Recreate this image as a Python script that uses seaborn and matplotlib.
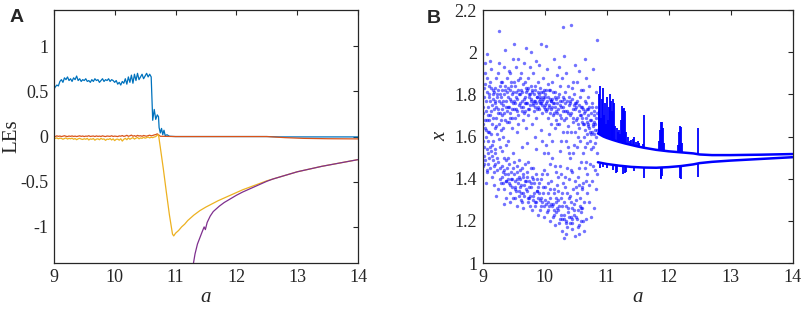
import matplotlib
matplotlib.use('Agg')
import matplotlib.pyplot as plt
import seaborn as sns
from matplotlib.ticker import FuncFormatter

# ================= Panel A: Lyapunov exponents =================
a_grid = [9.0, 9.025, 9.05, 9.075, 9.1, 9.125, 9.15, 9.175, 9.2, 9.225,
          9.25, 9.275, 9.3, 9.325, 9.35, 9.375, 9.4, 9.425, 9.45, 9.475,
          9.5, 9.525, 9.55, 9.575, 9.6, 9.625, 9.65, 9.675, 9.7, 9.725,
          9.75, 9.775, 9.8, 9.825, 9.85, 9.875, 9.9, 9.925, 9.95, 9.975,
          10.0, 10.025, 10.05, 10.075, 10.1, 10.125, 10.15, 10.175, 10.2, 10.225,
          10.25, 10.275, 10.3, 10.325, 10.35, 10.375, 10.4, 10.425, 10.45, 10.475,
          10.5, 10.525, 10.55, 10.575, 10.6, 10.625, 10.65, 10.675, 10.7]

le1_grid = [0.52, 0.55, 0.57, 0.56, 0.61, 0.63, 0.60, 0.65, 0.63, 0.66,
            0.62, 0.64, 0.61, 0.65, 0.63, 0.67, 0.62, 0.64, 0.61, 0.63,
            0.62, 0.64, 0.61, 0.62, 0.60, 0.63, 0.61, 0.64, 0.62, 0.63,
            0.60, 0.62, 0.64, 0.61, 0.63, 0.62, 0.64, 0.61, 0.63, 0.62,
            0.60, 0.62, 0.58, 0.60, 0.57, 0.61, 0.59, 0.64, 0.58, 0.66,
            0.60, 0.68, 0.59, 0.69, 0.62, 0.70, 0.63, 0.66, 0.69, 0.64,
            0.67, 0.70, 0.66, 0.69, 0.66, 0.18, 0.30, 0.19, 0.24]
le1_tail_a = [10.72, 10.73, 10.75, 10.77, 10.79, 10.81, 10.83, 10.86, 10.9, 11.0, 12.5, 12.7, 14.0]
le1_tail = [0.22, 0.10, 0.04, 0.09, 0.02, 0.07, 0.01, 0.02, 0.003, 0.0, 0.0, -0.004, -0.004]

le2_grid = [0.005, 0.0, 0.008, 0.002, 0.006, 0.0, 0.004, 0.009, 0.003, 0.0,
            0.006, 0.002, 0.007, 0.001, 0.005, 0.0, 0.004, 0.008, 0.002, 0.006,
            0.0, 0.005, 0.003, 0.009, 0.001, 0.004, 0.006, 0.0, 0.007, 0.002,
            0.005, 0.001, 0.008, 0.003, 0.0, 0.006, 0.004, 0.002, 0.009, 0.001,
            0.005, 0.003, 0.0, 0.007, 0.004, 0.011, 0.002, 0.006, 0.014, 0.003,
            0.008, 0.016, 0.004, 0.010, 0.002, 0.013, 0.006, 0.009, 0.003, 0.012,
            0.007, 0.004, 0.010, 0.015, 0.008, 0.012, 0.018, 0.022, 0.030]
le2_tail_a = [10.72, 10.75, 11.0, 12.5, 12.8, 13.1, 13.5, 14.0]
le2_tail = [0.02, 0.003, 0.0, 0.0, -0.012, -0.02, -0.024, -0.026]

le3_grid = [-0.010, -0.020, -0.015, -0.025, -0.018, -0.020, -0.030, -0.022, -0.015, -0.028,
            -0.020, -0.025, -0.018, -0.030, -0.022, -0.035, -0.025, -0.020, -0.028, -0.032,
            -0.024, -0.030, -0.020, -0.038, -0.026, -0.030, -0.022, -0.040, -0.028, -0.025,
            -0.035, -0.020, -0.030, -0.026, -0.042, -0.028, -0.032, -0.022, -0.038, -0.025,
            -0.045, -0.030, -0.028, -0.040, -0.024, -0.050, -0.030, -0.020, -0.035, -0.015,
            -0.030, -0.020, -0.012, -0.028, -0.018, -0.010, -0.025, -0.015, -0.020, -0.008,
            -0.018, -0.012, -0.005, -0.015, -0.008, -0.012, -0.005, 0.000, 0.015]
le3_tail_a = [10.72, 10.75, 10.8, 10.85, 10.9, 10.95, 10.97, 11.0, 11.05, 11.1, 11.15, 11.2,
              11.3, 11.4, 11.5, 11.6, 11.7, 11.8, 11.9, 12.0, 12.1, 12.2, 12.3, 12.4, 12.5,
              12.6, 12.7, 12.8, 12.9, 13.0, 13.2, 13.4, 13.6, 13.8, 14.0]
le3_tail = [0.02, -0.12, -0.36, -0.62, -0.87, -1.08, -1.10, -1.07, -1.04, -1.0, -0.97, -0.93,
            -0.87, -0.82, -0.78, -0.745, -0.71, -0.68, -0.65, -0.62, -0.59, -0.565, -0.54, -0.515, -0.49,
            -0.47, -0.45, -0.43, -0.41, -0.39, -0.36, -0.33, -0.305, -0.28, -0.255]

le4_a = [11.29, 11.32, 11.36, 11.40, 11.44, 11.47, 11.49, 11.52, 11.57, 11.62, 11.67, 11.72,
         11.8, 11.9, 12.0, 12.1, 12.2, 12.3, 12.4, 12.5, 12.6, 12.7, 12.8, 12.9, 13.0,
         13.2, 13.4, 13.6, 13.8, 14.0]
le4 = [-1.42, -1.30, -1.19, -1.12, -1.05, -1.0, -1.03, -0.95, -0.88, -0.83, -0.80, -0.77,
       -0.73, -0.69, -0.65, -0.615, -0.585, -0.555, -0.525, -0.495, -0.47, -0.45, -0.43, -0.41, -0.39,
       -0.36, -0.33, -0.305, -0.28, -0.255]

# ================= Panel B: bifurcation diagram =================
cloud = [
    (9.004, 1.46), (9.012, 1.71), (9.018, 1.83), (9.025, 1.55), (9.031, 1.64), (9.038, 1.95), (9.044, 1.49),
    (9.051, 1.77), (9.057, 1.60), (9.063, 1.43), (9.069, 1.88), (9.074, 1.68), (9.080, 1.52), (9.086, 1.74),
    (9.091, 1.58), (9.096, 1.80), (9.008, 1.66), (9.047, 1.38), (9.072, 1.99), (9.089, 1.47), (9.015, 1.51), (9.060, 1.72),
    (9.103, 1.62), (9.109, 1.79), (9.114, 1.45), (9.121, 1.86), (9.127, 1.70), (9.133, 1.53), (9.139, 1.92),
    (9.145, 1.41), (9.151, 1.75), (9.157, 1.66), (9.163, 1.49), (9.168, 1.82), (9.174, 1.58), (9.180, 1.37),
    (9.186, 1.73), (9.192, 1.64), (9.197, 1.47), (9.118, 1.96), (9.148, 1.56), (9.171, 1.78), (9.188, 1.43),
    (9.203, 1.77), (9.208, 1.52), (9.214, 1.69), (9.220, 1.88), (9.226, 1.44), (9.232, 1.61), (9.238, 1.80),
    (9.244, 1.35), (9.250, 1.73), (9.256, 1.48), (9.262, 1.95), (9.268, 1.66), (9.272, 2.10), (9.276, 1.55),
    (9.281, 1.84), (9.287, 1.40), (9.292, 1.76), (9.297, 1.63), (9.216, 1.32), (9.247, 1.90), (9.283, 1.71),
    (9.302, 1.79), (9.307, 1.46), (9.313, 1.70), (9.319, 1.86), (9.325, 1.38), (9.331, 1.64), (9.337, 1.75),
    (9.343, 1.50), (9.349, 1.93), (9.355, 1.82), (9.361, 1.42), (9.367, 1.68), (9.373, 1.31), (9.379, 1.77),
    (9.385, 1.56), (9.391, 1.88), (9.396, 1.45), (9.322, 1.60), (9.358, 2.01), (9.388, 1.72), (9.340, 1.35),
    (9.403, 1.74), (9.408, 1.83), (9.414, 1.40), (9.420, 1.67), (9.426, 1.91), (9.432, 1.47), (9.438, 1.78),
    (9.444, 1.29), (9.450, 1.71), (9.456, 1.86), (9.462, 1.43), (9.468, 1.64), (9.474, 1.80), (9.480, 1.36),
    (9.486, 1.52), (9.492, 1.76), (9.497, 1.97), (9.417, 1.58), (9.447, 1.33), (9.471, 1.69), (9.489, 1.45),
    (9.501, 2.04), (9.506, 1.77), (9.512, 1.42), (9.518, 1.84), (9.524, 1.69), (9.530, 1.31), (9.536, 1.79),
    (9.542, 1.93), (9.548, 1.46), (9.554, 1.72), (9.560, 1.27), (9.566, 1.82), (9.572, 1.38), (9.578, 1.66),
    (9.584, 1.75), (9.590, 1.49), (9.596, 1.88), (9.515, 1.35), (9.545, 1.73), (9.575, 1.97), (9.593, 1.41),
    (9.603, 1.80), (9.608, 1.40), (9.614, 1.74), (9.620, 1.90), (9.626, 1.33), (9.632, 1.77), (9.638, 1.45),
    (9.644, 1.68), (9.650, 1.85), (9.656, 1.26), (9.662, 1.71), (9.668, 1.95), (9.674, 1.37), (9.680, 1.79),
    (9.686, 1.47), (9.692, 1.83), (9.697, 1.64), (9.617, 1.30), (9.647, 1.42), (9.677, 1.76), (9.695, 2.02),
    (9.702, 1.76), (9.707, 1.35), (9.713, 1.82), (9.719, 1.43), (9.725, 1.70), (9.731, 1.88), (9.737, 1.29),
    (9.743, 1.79), (9.749, 1.39), (9.755, 1.73), (9.761, 1.93), (9.767, 1.32), (9.773, 1.78), (9.779, 1.45),
    (9.785, 1.84), (9.791, 1.66), (9.796, 1.25), (9.716, 1.57), (9.746, 1.80), (9.776, 2.00), (9.794, 1.41),
    (9.803, 1.81), (9.808, 1.30), (9.814, 1.75), (9.820, 1.90), (9.826, 1.38), (9.832, 1.72), (9.838, 1.84),
    (9.844, 1.27), (9.850, 1.77), (9.856, 1.42), (9.862, 1.69), (9.868, 1.96), (9.874, 1.34), (9.880, 1.79),
    (9.886, 1.23), (9.892, 1.74), (9.897, 1.86), (9.817, 1.45), (9.847, 1.60), (9.877, 1.73), (9.895, 1.36),
    (9.903, 1.77), (9.908, 1.33), (9.914, 1.73), (9.920, 1.83), (9.926, 1.25), (9.932, 1.79), (9.938, 1.40),
    (9.944, 1.76), (9.950, 2.04), (9.956, 1.29), (9.962, 1.71), (9.968, 1.88), (9.974, 1.36), (9.980, 1.78),
    (9.986, 1.52), (9.992, 1.74), (9.997, 1.22), (9.917, 1.94), (9.947, 1.63), (9.977, 1.81), (9.995, 1.44),
    (10.003, 1.75), (10.008, 1.30), (10.014, 1.80), (10.020, 1.56), (10.026, 1.72), (10.032, 1.92), (10.038, 1.24),
    (10.044, 1.77), (10.050, 1.38), (10.056, 1.69), (10.062, 1.85), (10.068, 1.27), (10.074, 1.74), (10.080, 1.47),
    (10.086, 1.78), (10.092, 1.20), (10.097, 1.66), (10.017, 2.03), (10.047, 1.33), (10.077, 1.61), (10.095, 1.82),
    (10.103, 1.73), (10.108, 1.28), (10.114, 1.78), (10.120, 1.50), (10.126, 1.86), (10.132, 1.22), (10.138, 1.70),
    (10.144, 1.35), (10.150, 1.76), (10.156, 1.97), (10.162, 1.18), (10.168, 1.64), (10.174, 1.81), (10.180, 1.31),
    (10.186, 1.72), (10.192, 1.43), (10.197, 1.89), (10.117, 1.58), (10.147, 1.25), (10.177, 1.68), (10.195, 1.37),
    (10.203, 1.71), (10.208, 1.26), (10.214, 1.79), (10.220, 1.41), (10.226, 1.66), (10.232, 1.93), (10.238, 1.19),
    (10.244, 1.75), (10.250, 1.53), (10.256, 1.84), (10.262, 1.23), (10.268, 1.69), (10.274, 1.33), (10.280, 1.77),
    (10.286, 1.15), (10.292, 1.62), (10.298, 2.12), (10.217, 1.30), (10.247, 1.46), (10.277, 1.88), (10.295, 1.38),
    (10.303, 1.74), (10.308, 1.21), (10.314, 1.68), (10.320, 1.12), (10.326, 1.81), (10.332, 1.36), (10.338, 1.58),
    (10.344, 1.27), (10.350, 1.90), (10.356, 1.72), (10.362, 1.17), (10.368, 1.45), (10.374, 1.65), (10.380, 1.24),
    (10.386, 1.79), (10.392, 1.31), (10.397, 1.52), (10.317, 1.98), (10.347, 1.14), (10.377, 1.84), (10.395, 1.40),
    (10.403, 1.70), (10.408, 1.19), (10.414, 1.77), (10.420, 1.29), (10.426, 1.62), (10.432, 2.13), (10.438, 1.43),
    (10.444, 1.83), (10.450, 1.16), (10.456, 1.67), (10.462, 1.35), (10.468, 1.75), (10.474, 1.23), (10.480, 1.56),
    (10.486, 1.94), (10.492, 1.39), (10.497, 1.73), (10.417, 1.50), (10.447, 1.26), (10.477, 1.80), (10.495, 1.13),
    (10.503, 1.68), (10.508, 1.22), (10.514, 1.76), (10.520, 1.33), (10.526, 1.86), (10.532, 1.17), (10.538, 1.60),
    (10.544, 1.41), (10.550, 1.72), (10.556, 1.14), (10.562, 1.64), (10.568, 1.27), (10.574, 1.79), (10.580, 1.48),
    (10.586, 1.20), (10.592, 1.70), (10.597, 1.36), (10.517, 1.55), (10.547, 1.91), (10.577, 1.31), (10.595, 1.82),
    (10.603, 1.74), (10.608, 1.26), (10.614, 1.66), (10.620, 1.82), (10.626, 1.38), (10.632, 1.71), (10.638, 1.15),
    (10.644, 1.63), (10.650, 1.77), (10.656, 1.45), (10.662, 1.69), (10.668, 1.88), (10.674, 1.21), (10.680, 1.57),
    (10.686, 1.73), (10.692, 1.33), (10.697, 1.65), (10.617, 1.52), (10.647, 1.97), (10.677, 1.42), (10.695, 1.79),
    (10.703, 1.70), (10.710, 1.29), (10.717, 1.64), (10.724, 1.84), (10.731, 1.47), (10.738, 1.68), (10.745, 1.22),
    (10.752, 1.61), (10.759, 1.76), (10.766, 1.39), (10.773, 1.66), (10.780, 1.92), (10.787, 1.55), (10.794, 1.72),
    (10.801, 1.26), (10.808, 1.63), (10.815, 1.44), (10.822, 1.81), (10.829, 1.35), (10.836, 1.69), (10.843, 1.52),
    (10.850, 2.06), (10.727, 1.58), (10.763, 1.62), (10.798, 1.67), (10.826, 1.60),
]
cloud_dense = [
    (9.002, 1.74), (9.010, 1.58), (9.022, 1.79), (9.028, 1.47), (9.035, 1.68), (9.041, 1.85), (9.054, 1.63),
    (9.066, 1.54), (9.078, 1.81), (9.083, 1.70), (9.094, 1.62), (9.098, 1.50), (9.035, 1.90), (9.076, 1.44),
    (9.101, 1.84), (9.106, 1.68), (9.112, 1.55), (9.124, 1.77), (9.130, 1.61), (9.136, 1.83), (9.142, 1.72),
    (9.154, 1.51), (9.160, 1.80), (9.166, 1.69), (9.177, 1.46), (9.183, 1.81), (9.194, 1.76), (9.199, 1.54),
    (9.201, 1.83), (9.211, 1.74), (9.223, 1.65), (9.229, 1.79), (9.235, 1.50), (9.241, 1.71), (9.253, 1.82),
    (9.259, 1.59), (9.265, 1.77), (9.278, 1.45), (9.285, 1.80), (9.290, 1.68), (9.295, 1.38), (9.299, 1.86),
    (9.305, 1.73), (9.311, 1.82), (9.316, 1.53), (9.328, 1.77), (9.334, 1.43), (9.346, 1.80), (9.352, 1.71),
    (9.364, 1.84), (9.370, 1.49), (9.376, 1.74), (9.382, 1.39), (9.393, 1.81), (9.398, 1.67), (9.344, 1.28),
    (9.405, 1.79), (9.411, 1.50), (9.423, 1.74), (9.429, 1.38), (9.435, 1.82), (9.441, 1.69), (9.453, 1.77),
    (9.459, 1.40), (9.465, 1.84), (9.477, 1.73), (9.483, 1.31), (9.494, 1.81), (9.499, 1.48), (9.442, 1.90),
    (9.503, 1.73), (9.509, 1.86), (9.521, 1.39), (9.527, 1.76), (9.533, 1.81), (9.539, 1.34), (9.551, 1.78),
    (9.557, 1.43), (9.563, 1.70), (9.569, 1.87), (9.581, 1.32), (9.587, 1.80), (9.598, 1.44), (9.557, 1.62),
    (9.605, 1.76), (9.611, 1.36), (9.623, 1.82), (9.629, 1.72), (9.635, 1.29), (9.641, 1.81), (9.653, 1.74),
    (9.659, 1.41), (9.665, 1.78), (9.671, 1.32), (9.683, 1.86), (9.689, 1.72), (9.699, 1.39), (9.640, 1.55),
    (9.704, 1.81), (9.710, 1.41), (9.722, 1.76), (9.728, 1.31), (9.734, 1.83), (9.740, 1.73), (9.752, 1.36),
    (9.758, 1.80), (9.764, 1.75), (9.770, 1.27), (9.782, 1.77), (9.788, 1.38), (9.798, 1.82), (9.740, 1.48),
    (9.805, 1.76), (9.811, 1.40), (9.823, 1.80), (9.829, 1.33), (9.835, 1.77), (9.841, 1.74), (9.853, 1.82),
    (9.859, 1.29), (9.865, 1.76), (9.871, 1.79), (9.883, 1.40), (9.889, 1.81), (9.899, 1.31), (9.859, 1.54),
    (9.905, 1.80), (9.911, 1.38), (9.923, 1.76), (9.929, 1.78), (9.935, 1.31), (9.941, 1.81), (9.953, 1.77),
    (9.959, 1.42), (9.965, 1.75), (9.971, 1.79), (9.983, 1.27), (9.989, 1.82), (9.999, 1.73), (9.960, 1.58),
    (10.005, 1.79), (10.011, 1.36), (10.023, 1.76), (10.029, 1.82), (10.035, 1.42), (10.041, 1.73), (10.053, 1.79),
    (10.059, 1.29), (10.065, 1.75), (10.071, 1.82), (10.083, 1.35), (10.089, 1.71), (10.099, 1.77), (10.060, 1.52),
    (10.105, 1.77), (10.111, 1.39), (10.123, 1.74), (10.129, 1.81), (10.135, 1.28), (10.141, 1.76), (10.153, 1.71),
    (10.159, 1.33), (10.165, 1.79), (10.171, 1.74), (10.183, 1.24), (10.189, 1.78), (10.199, 1.66), (10.160, 1.46),
    (10.205, 1.76), (10.211, 1.34), (10.223, 1.73), (10.229, 1.80), (10.235, 1.27), (10.241, 1.70), (10.253, 1.77),
    (10.259, 1.31), (10.265, 1.74), (10.271, 1.58), (10.283, 1.21), (10.289, 1.72), (10.299, 1.79), (10.260, 1.42),
    (10.305, 1.78), (10.311, 1.29), (10.323, 1.72), (10.329, 1.41), (10.335, 1.76), (10.341, 1.19), (10.353, 1.69),
    (10.359, 1.33), (10.365, 1.77), (10.371, 1.55), (10.383, 1.71), (10.389, 1.22), (10.399, 1.75), (10.360, 1.62),
    (10.405, 1.76), (10.411, 1.32), (10.423, 1.71), (10.429, 1.44), (10.435, 1.78), (10.441, 1.21), (10.453, 1.73),
    (10.459, 1.52), (10.465, 1.69), (10.471, 1.28), (10.483, 1.76), (10.489, 1.62), (10.499, 1.36), (10.460, 1.86),
    (10.505, 1.74), (10.511, 1.30), (10.523, 1.69), (10.529, 1.77), (10.535, 1.25), (10.541, 1.66), (10.553, 1.75),
    (10.559, 1.37), (10.565, 1.70), (10.571, 1.58), (10.583, 1.74), (10.589, 1.26), (10.599, 1.67), (10.560, 1.45),
    (10.605, 1.69), (10.611, 1.35), (10.623, 1.73), (10.629, 1.60), (10.635, 1.66), (10.641, 1.29), (10.653, 1.72),
    (10.659, 1.55), (10.665, 1.76), (10.671, 1.48), (10.683, 1.67), (10.689, 1.61), (10.699, 1.73), (10.660, 1.39),
    (10.706, 1.66), (10.713, 1.74), (10.720, 1.37), (10.734, 1.62), (10.741, 1.71), (10.748, 1.54), (10.755, 1.68),
    (10.770, 1.74), (10.777, 1.46), (10.784, 1.65), (10.791, 1.61), (10.805, 1.70), (10.812, 1.57), (10.819, 1.66),
    (10.833, 1.74), (10.840, 1.63), (10.846, 1.42), (10.848, 1.71),
]
cloud_low = [
    (9.31, 1.41), (9.34, 1.44), (9.37, 1.39), (9.41, 1.42), (9.44, 1.37), (9.47, 1.40), (9.52, 1.36),
    (9.55, 1.40), (9.58, 1.34), (9.62, 1.37), (9.65, 1.33), (9.68, 1.39), (9.72, 1.34), (9.75, 1.31),
    (9.78, 1.36), (9.82, 1.32), (9.85, 1.29), (9.88, 1.34), (9.92, 1.30), (9.95, 1.27), (9.98, 1.33),
    (10.02, 1.28), (10.05, 1.25), (10.08, 1.31), (10.12, 1.27), (10.15, 1.23), (10.18, 1.29), (10.22, 1.25),
    (10.25, 1.21), (10.28, 1.27), (10.32, 1.23), (10.35, 1.20), (10.38, 1.26), (10.42, 1.22), (10.45, 1.19),
    (10.48, 1.25), (10.52, 1.21), (10.55, 1.18), (10.58, 1.24), (10.62, 1.20),
]
cloud_a = [p[0] for p in cloud + cloud_dense + cloud_low]
cloud_x = [p[1] for p in cloud + cloud_dense + cloud_low]

# periodic branches
upper_a = [10.86, 10.95, 11.0, 11.1, 11.2, 11.3, 11.4, 11.5, 11.6, 11.7, 11.8, 12.0, 12.2, 12.4, 12.5, 12.7, 13.0, 13.5, 14.0]
upper_x = [1.615, 1.60, 1.594, 1.584, 1.575, 1.567, 1.56, 1.553, 1.547, 1.542, 1.537, 1.53, 1.525, 1.52, 1.515, 1.512, 1.512, 1.514, 1.517]
lower_a = [10.86, 11.0, 11.2, 11.4, 11.6, 11.8, 12.0, 12.2, 12.4, 12.5, 12.7, 13.0, 13.5, 14.0]
lower_x = [1.478, 1.47, 1.462, 1.456, 1.453, 1.452, 1.455, 1.46, 1.468, 1.474, 1.48, 1.486, 1.494, 1.502]

# spikes (periodic windows) above upper branch
spike_a = [10.87, 10.88, 10.9, 10.915, 10.93, 10.945, 10.96, 10.975, 10.99, 11.005, 11.02, 11.035, 11.05,
           11.065, 11.08, 11.095, 11.11, 11.125, 11.14, 11.16, 11.18, 11.2, 11.22, 11.24, 11.255, 11.27,
           11.285, 11.30, 11.32, 11.345, 11.37, 11.40, 11.43, 11.45, 11.47, 11.50, 11.53, 11.58, 11.60,
           11.85, 11.865, 11.88, 11.895, 11.91, 11.925, 12.16, 12.175, 12.19, 12.205, 12.22, 12.47]
spike_base = [1.613, 1.611, 1.608, 1.606, 1.604, 1.601, 1.599, 1.597, 1.595, 1.594, 1.592, 1.591, 1.589,
              1.588, 1.586, 1.585, 1.583, 1.582, 1.580, 1.578, 1.577, 1.575, 1.573, 1.572, 1.571, 1.569,
              1.568, 1.567, 1.565, 1.564, 1.562, 1.560, 1.558, 1.557, 1.555, 1.553, 1.551, 1.548, 1.547,
              1.534, 1.534, 1.533, 1.533, 1.532, 1.532, 1.526, 1.526, 1.525, 1.525, 1.525, 1.516]
spike_top = [1.80, 1.72, 1.84, 1.69, 1.78, 1.83, 1.70, 1.76, 1.66, 1.79, 1.68, 1.74, 1.80,
             1.77, 1.66, 1.72, 1.78, 1.76, 1.65, 1.64, 1.62, 1.63, 1.61, 1.68, 1.745, 1.73,
             1.735, 1.72, 1.62, 1.60, 1.58, 1.585, 1.59, 1.60, 1.575, 1.58, 1.57, 1.565, 1.70,
             1.58, 1.63, 1.67, 1.67, 1.64, 1.57, 1.56, 1.62, 1.65, 1.645, 1.57, 1.64]
# spikes below lower branch
lspike_a = [10.9, 10.95, 11.0, 11.1, 11.15, 11.17, 11.27, 11.29, 11.31, 11.45, 11.6, 11.87, 11.885, 11.9, 12.18, 12.2, 12.47]
lspike_top = [1.472, 1.471, 1.47, 1.466, 1.464, 1.463, 1.46, 1.459, 1.459, 1.456, 1.453, 1.452, 1.452, 1.452, 1.458, 1.46, 1.472]
lspike_bot = [1.45, 1.455, 1.45, 1.44, 1.425, 1.43, 1.42, 1.425, 1.43, 1.435, 1.405, 1.40, 1.405, 1.415, 1.405, 1.40, 1.41]

# ================= Style =================
sns.set_style('white')
plt.rcParams['font.family'] = ['Liberation Serif', 'DejaVu Serif']
plt.rcParams['axes.unicode_minus'] = False

ink = '#262626'
fig = plt.figure(figsize=(8.03, 3.15), dpi=100)
axA = fig.add_axes([0.067, 0.165, 0.379, 0.803])
axB = fig.add_axes([0.601, 0.165, 0.386, 0.803])

# Panel A lines
lw = 0.9
sns.lineplot(x=a_grid + le1_tail_a, y=le1_grid + le1_tail, ax=axA, color='#0072BD', lw=lw, estimator=None, sort=False)
sns.lineplot(x=a_grid + le2_tail_a, y=le2_grid + le2_tail, ax=axA, color='#D95319', lw=lw, estimator=None, sort=False)
sns.lineplot(x=a_grid + le3_tail_a, y=le3_grid + le3_tail, ax=axA, color='#EDB120', lw=lw, estimator=None, sort=False)
sns.lineplot(x=le4_a, y=le4, ax=axA, color='#7E2F8E', lw=lw, estimator=None, sort=False)
axA.set_xlim(9, 14)
axA.set_ylim(-1.4, 1.4)
axA.set_yticks([-1, -0.5, 0, 0.5, 1])
axA.set_ylabel('LEs', fontsize=15, color=ink)
axA.yaxis.set_label_coords(-0.105, 0.5)

# Panel B scatter + branches
blue = '#0000FF'
sns.scatterplot(x=cloud_a, y=cloud_x, ax=axB, color=blue, s=6, alpha=0.55, linewidth=0)
sns.lineplot(x=upper_a, y=upper_x, ax=axB, color=blue, lw=1.8, estimator=None, sort=False)
sns.lineplot(x=lower_a, y=lower_x, ax=axB, color=blue, lw=1.8, estimator=None, sort=False)
axB.vlines(spike_a, spike_base, spike_top, color=blue, lw=1.3)
axB.vlines(lspike_a, lspike_bot, lspike_top, color=blue, lw=1.3)
axB.set_xlim(9, 14)
axB.set_ylim(1, 2.2)
axB.set_yticks([1, 1.2, 1.4, 1.6, 1.8, 2, 2.2])
axB.set_ylabel('x', fontsize=15, style='italic', color=ink)
axB.yaxis.set_label_coords(-0.105, 0.5)

fmt = FuncFormatter(lambda v, p: '%g' % v)
for ax in (axA, axB):
    ax.set_xticks([9, 10, 11, 12, 13, 14])
    ax.set_xlabel('a', fontsize=15, style='italic', color=ink, labelpad=2)
    ax.xaxis.set_major_formatter(fmt)
    ax.yaxis.set_major_formatter(fmt)
    ax.tick_params(direction='in', length=3.5, width=0.8, top=True, right=True,
                   labelsize=13, colors=ink, pad=4)
    for s in ax.spines.values():
        s.set_color(ink)
        s.set_linewidth(0.9)

fig.text(0.021, 0.943, 'A', fontsize=14, fontweight='bold', family='Liberation Sans', ha='center', va='center')
fig.text(0.540, 0.942, 'B', fontsize=14, fontweight='bold', family='Liberation Sans', ha='center', va='center')

plt.savefig('out.png', dpi=100)
